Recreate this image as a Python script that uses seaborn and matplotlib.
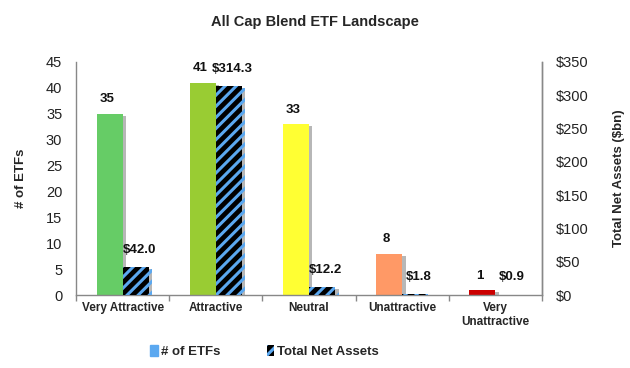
import numpy as np
import pandas as pd
import matplotlib
matplotlib.use('Agg')
import matplotlib.pyplot as plt
import matplotlib.ticker as mticker
import matplotlib.patheffects as pe
from matplotlib.patches import Patch
import seaborn as sns

# Dados
CATEGORIES = ['Very Attractive', 'Attractive', 'Neutral', 'Unattractive', 'Very\nUnattractive']
NUM_ETFS = [35, 41, 33, 8, 1]
NET_ASSETS = [42.0, 314.3, 12.2, 1.8, 0.9]
BAR_COLORS = ['#66cc66', '#99cc33', '#ffff33', '#ff9966', '#cc0000']
SERIES = ['# of ETFs', 'Total Net Assets']

BLUE = '#5ba8f0'

sns.set_theme(style='white')
plt.rcParams['font.family'] = ['Liberation Sans', 'DejaVu Sans']
plt.rcParams['hatch.linewidth'] = 2.2

n = len(CATEGORIES)
df = pd.DataFrame({
    'Rating': CATEGORIES * 2,
    'Series': [SERIES[0]] * n + [SERIES[1]] * n,
    'ETFs': NUM_ETFS + [np.nan] * n,
    'Assets': [np.nan] * n + NET_ASSETS,
})

fig = plt.figure(figsize=(6.3, 3.68), dpi=100)
ax = fig.add_axes([0.121, 0.198, 0.739, 0.634])
ax2 = ax.twinx()

shadow = [pe.SimplePatchShadow(offset=(2.5, -1.5), shadow_rgbFace='#888888', alpha=0.6), pe.Normal()]

sns.barplot(data=df, x='Rating', y='ETFs', hue='Series', hue_order=SERIES,
            order=CATEGORIES, dodge=True, width=0.56, gap=0,
            palette=['#999999', '#999999'], legend=False, ax=ax, errorbar=None)
sns.barplot(data=df, x='Rating', y='Assets', hue='Series', hue_order=SERIES,
            order=CATEGORIES, dodge=True, width=0.56, gap=0,
            palette=['#999999', '#999999'], legend=False, ax=ax2, errorbar=None)

etf_bars = [p for c in ax.containers for p in c if np.isfinite(p.get_height()) and p.get_height() > 0]
asset_bars = [p for c in ax2.containers for p in c if np.isfinite(p.get_height()) and p.get_height() > 0]
etf_bars.sort(key=lambda p: p.get_x())
asset_bars.sort(key=lambda p: p.get_x())

# rótulos: um pouco afastados entre si para não colidirem
for p, col, v in zip(etf_bars, BAR_COLORS, NUM_ETFS):
    p.set_facecolor(col)
    p.set_edgecolor(col)
    p.set_linewidth(0)
    p.set_path_effects(shadow)
    ax.annotate(f'{v}', (p.get_x() + p.get_width() / 2, v), xytext=(-2, 6),
                textcoords='offset points', ha='center', va='bottom',
                fontsize=9.5, fontweight='bold', color='#111111')

for p, v in zip(asset_bars, NET_ASSETS):
    p.set_facecolor('black')
    p.set_edgecolor(BLUE)
    p.set_hatch('///')
    p.set_linewidth(0)
    p.set_path_effects(shadow)
    ax2.annotate(f'${v:.1f}', (p.get_x() + p.get_width() / 2, v), xytext=(2.5, 8),
                 textcoords='offset points', ha='center', va='bottom',
                 fontsize=9.5, fontweight='bold', color='#111111')

ax.set_ylim(0, 45)
ax.set_yticks(range(0, 46, 5))
ax2.set_ylim(0, 350)
ax2.set_yticks(range(0, 351, 50))
ax2.yaxis.set_major_formatter(mticker.FuncFormatter(lambda v, _: f'${v:.0f}'))
ax.set_xlim(-0.5, n - 0.5)

ax.set_xlabel('')
ax.set_ylabel('# of ETFs', fontsize=9.5, fontweight='bold', labelpad=14)
ax2.set_ylabel('Total Net Assets ($bn)', fontsize=9.5, fontweight='bold', labelpad=18)
ax.tick_params(axis='x', which='major', length=0, labelsize=8.5, pad=5)
for lbl in ax.get_xticklabels():
    lbl.set_fontweight('bold')
ax.tick_params(axis='y', labelsize=10.5, length=0, pad=10, labelcolor='#222222')
ax2.tick_params(axis='y', labelsize=10.5, length=0, pad=10, labelcolor='#222222')

# marcas entre categorias
ax.set_xticks(np.arange(-0.5, n, 1), minor=True)
ax.tick_params(axis='x', which='minor', bottom=True, length=4, width=1, color='#888888', direction='out')

for a in (ax, ax2):
    a.spines['top'].set_visible(False)
    for s in ['left', 'bottom', 'right']:
        a.spines[s].set_color('#888888')
        a.spines[s].set_linewidth(1)
ax2.spines['left'].set_visible(False)
ax2.spines['bottom'].set_visible(False)
ax.grid(False)
ax2.grid(False)

handles = [Patch(facecolor=BLUE, edgecolor=BLUE, label=SERIES[0]),
           Patch(facecolor='black', edgecolor=BLUE, hatch='///', linewidth=0, label=SERIES[1])]
fig.legend(handles=handles, loc='center', bbox_to_anchor=(0.42, 0.045), ncol=2, frameon=False,
           handlelength=0.6, handleheight=0.9, columnspacing=3.5, handletextpad=0.2,
           prop={'weight': 'bold', 'size': 9.5})

fig.suptitle('All Cap Blend ETF Landscape', fontsize=10.5, fontweight='bold', y=0.96)

fig.savefig('out.png', dpi=100)
